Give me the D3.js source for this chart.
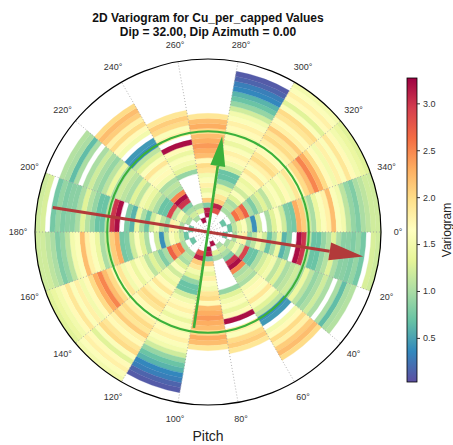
<!DOCTYPE html>
<html><head><meta charset="utf-8">
<script src="https://cdn.jsdelivr.net/npm/d3@7"></script>
<style>
html,body{margin:0;padding:0;background:#fff;}
svg text{font-family:"Liberation Sans",Arial,sans-serif;}
</style></head>
<body>
<script>
// ---- data ----
const titleLines = ["2D Variogram for Cu_per_capped Values", "Dip = 32.00, Dip Azimuth = 0.00"];
const sectorStarts = [0, 20, 40, 60, 80, 100, 120, 140, 160]; // degrees, mirrored at +180
const sectorWidth = 20;
const nLags = 35;
// variogram values per lag ring (null = no pairs)
const s000 = [null,null,null,0.7,null,1.0,1.5,1.8,0.9,1.1,1.5,1.2,0.7,1.0,1.4,0.6,0.8,null,3.2,3.0,1.1,0.7,0.7,0.9,1.05,1.3,1.0,0.85,0.85,0.8,0.9,0.75,null,1.25,1.2];
const s020 = [null,null,null,null,1.0,1.2,1.5,1.1,2.9,0.7,0.7,1.0,1.2,1.4,1.5,1.1,1.3,1.0,1.1,1.2,1.0,1.4,1.1,0.9,1.0,1.2,1.0,null,1.0,0.65,1.0,1.05,null,null,null];
const s040 = [null,null,null,1.0,1.2,1.0,0.8,3.0,3.2,2.5,1.0,1.1,1.0,1.5,1.7,1.6,1.9,1.6,1.3,1.1,0.4,0.45,null,1.5,1.7,2.0,1.8,2.1,2.2,2.0,null,null,null,null,null];
const s060 = [null,null,3.2,null,1.3,1.0,null,null,null,null,null,null,0.9,1.3,1.5,1.6,1.4,1.7,3.2,null,1.8,1.6,2.0,2.1,1.9,null,null,null,null,null,null,null,null,null,null];
const s080 = [null,null,null,3.2,3.1,0.8,2.1,1.6,1.4,1.8,1.6,1.5,1.9,2.0,1.7,2.2,2.3,2.4,2.3,2.2,2.0,2.3,2.2,1.9,null,null,null,null,null,null,null,null,null,null,null];
const s100 = [null,null,null,null,2.8,3.1,2.1,1.9,1.5,1.3,0.9,0.7,0.7,1.2,1.5,1.7,1.8,1.6,1.4,1.6,1.5,1.7,1.8,1.6,1.5,1.2,0.9,0.7,0.6,0.35,0.3,0.15,0.1,null,null];
const s120 = [null,null,null,null,null,1.0,1.1,1.0,1.3,1.6,1.2,1.5,1.4,1.7,1.9,1.6,1.8,2.0,1.9,1.7,1.6,1.8,2.0,1.9,2.1,1.8,1.7,1.9,2.0,1.6,1.3,1.7,1.8,1.6,1.5];
const s140 = [null,null,null,0.7,null,1.0,2.6,2.4,2.7,1.0,0.8,1.1,1.3,1.1,1.5,1.6,1.4,1.7,1.5,1.9,1.6,2.0,2.2,2.5,2.3,2.0,1.7,1.5,1.8,1.6,1.9,1.7,1.5,1.4,1.3];
const s160 = [null,null,null,null,0.7,1.1,1.4,1.6,1.1,0.4,1.2,null,1.0,1.3,1.6,1.2,0.8,0.75,2.3,2.1,1.2,1.0,1.4,1.6,1.8,2.2,1.6,1.5,1.1,0.9,0.8,1.0,1.1,1.2,1.2];
const sectorValues = [s000, s020, s040, s060, s080, s100, s120, s140, s160];
const angleTicks = d3.range(0, 360, 20);
const colorbarTicks = [0.5, 1.0, 1.5, 2.0, 2.5, 3.0];
const vMin = 0.03, vMax = 3.27;
// ellipse / direction overlays (angle in degrees clockwise from east, length in lag units)
const majorAxis = {angle: 9, length: 31.8};
const minorAxis = {angle: 278.4, length: 19.6};
const rangeCircle = 20.4;
const axisLabel = "Pitch";
const cbarLabel = "Variogram";

// ---- layout ----
const W = 453, H = 445;
const cx = 208, cy = 232, R = 173;
const svg = d3.select("body").append("svg").attr("width", W).attr("height", H);

const r = d3.scaleLinear().domain([0, nLags]).range([0, R]);
const toRad = d => (d + 90) * Math.PI / 180; // clockwise from east -> d3 arc angle
const spectral = ["#5e4fa2","#3288bd","#66c2a5","#abdda4","#e6f598","#ffffbf","#fee08b","#fdae61","#f46d43","#d53e4f","#9e0142"];
const color = d3.scaleLinear().domain(d3.range(11).map(i => vMin + (vMax - vMin) * i / 10)).range(spectral).clamp(true);

const g = svg.append("g").attr("transform", `translate(${cx},${cy})`);
const arc = d3.arc();

const cells = [];
sectorStarts.forEach((a, si) => {
  sectorValues[si].forEach((v, k) => {
    if (v == null) return;
    [a, a + 180].forEach(a0 => cells.push({a0, a1: a0 + sectorWidth, k, v}));
  });
});
g.selectAll("path.cell").data(cells).join("path")
  .attr("class", "cell")
  .attr("d", d => arc({innerRadius: r(d.k), outerRadius: r(d.k + 1), startAngle: toRad(d.a0), endAngle: toRad(d.a1)}))
  .attr("fill", d => color(d.v))
  .attr("stroke", d => color(d.v)).attr("stroke-width", 0.3);

// angular grid
g.selectAll("line.grid").data(angleTicks).join("line")
  .attr("x1", 0).attr("y1", 0)
  .attr("x2", d => R * Math.cos(d * Math.PI / 180))
  .attr("y2", d => R * Math.sin(d * Math.PI / 180))
  .attr("stroke", "#a0a0a0").attr("stroke-width", 0.8).attr("stroke-dasharray", "1,2");

// outer circle
g.append("circle").attr("r", R).attr("fill", "none").attr("stroke", "#000").attr("stroke-width", 1.2);

// angle labels
g.selectAll("text.ang").data(angleTicks).join("text")
  .attr("x", d => 190 * Math.cos(d * Math.PI / 180))
  .attr("y", d => 190 * Math.sin(d * Math.PI / 180))
  .attr("text-anchor", "middle").attr("dominant-baseline", "central")
  .attr("font-size", 9).attr("fill", "#333")
  .text(d => d + "°");

// range circle
const green = "#3bb03b", red = "#b23a3a";
g.append("circle").attr("r", r(rangeCircle)).attr("fill", "none").attr("stroke", green).attr("stroke-width", 2);

function drawArrow(ax, col, lw, headW, headL) {
  const t = ax.angle * Math.PI / 180;
  const L = r(ax.length);
  const ux = Math.cos(t), uy = Math.sin(t);
  const tipX = L * ux, tipY = L * uy;
  const bx = (L - headL) * ux, by = (L - headL) * uy;
  g.append("line").attr("x1", -L * ux).attr("y1", -L * uy).attr("x2", bx).attr("y2", by)
    .attr("stroke", col).attr("stroke-width", lw);
  const px = -uy, py = ux;
  g.append("path").attr("d", `M${tipX},${tipY}L${bx + px * headW / 2},${by + py * headW / 2}L${bx - px * headW / 2},${by - py * headW / 2}Z`)
    .attr("fill", col);
}
drawArrow(majorAxis, red, 3, 18, 34);
drawArrow(minorAxis, green, 2.6, 15, 30);

// title
svg.selectAll("text.title").data(titleLines).join("text")
  .attr("x", cx).attr("y", (d, i) => 21.5 + i * 14)
  .attr("text-anchor", "middle").attr("font-size", 12).attr("font-weight", "bold").attr("fill", "#111")
  .text(d => d);

// axis label
svg.append("text").attr("x", cx).attr("y", 441).attr("text-anchor", "middle")
  .attr("font-size", 14).attr("fill", "#222").text(axisLabel);

// colorbar
const cbX = 407, cbW = 10, cbTop = 78, cbBot = 382;
const cy2 = d3.scaleLinear().domain([vMin, vMax]).range([cbBot, cbTop]);
const defs = svg.append("defs");
const lg = defs.append("linearGradient").attr("id", "cb").attr("x1", 0).attr("y1", 1).attr("x2", 0).attr("y2", 0);
spectral.forEach((c, i) => lg.append("stop").attr("offset", i / 10).attr("stop-color", c));
svg.append("rect").attr("x", cbX).attr("y", cbTop).attr("width", cbW).attr("height", cbBot - cbTop)
  .attr("fill", "url(#cb)").attr("stroke", "#000").attr("stroke-width", 0.8);
const cbAxis = d3.axisRight(cy2).tickValues(colorbarTicks).tickFormat(d3.format(".1f")).tickSize(3).tickPadding(3);
const cbg = svg.append("g").attr("transform", `translate(${cbX + cbW},0)`).call(cbAxis);
cbg.select(".domain").remove();
cbg.selectAll("text").attr("font-size", 9).attr("fill", "#333").style("font-family", "Liberation Sans, Arial, sans-serif");
cbg.selectAll("line").attr("stroke", "#333");
svg.append("text").attr("transform", `translate(447,${(cbTop + cbBot) / 2}) rotate(-90)`)
  .attr("text-anchor", "middle").attr("dominant-baseline", "central")
  .attr("font-size", 12).attr("fill", "#222").text(cbarLabel);
</script>
</body></html>
